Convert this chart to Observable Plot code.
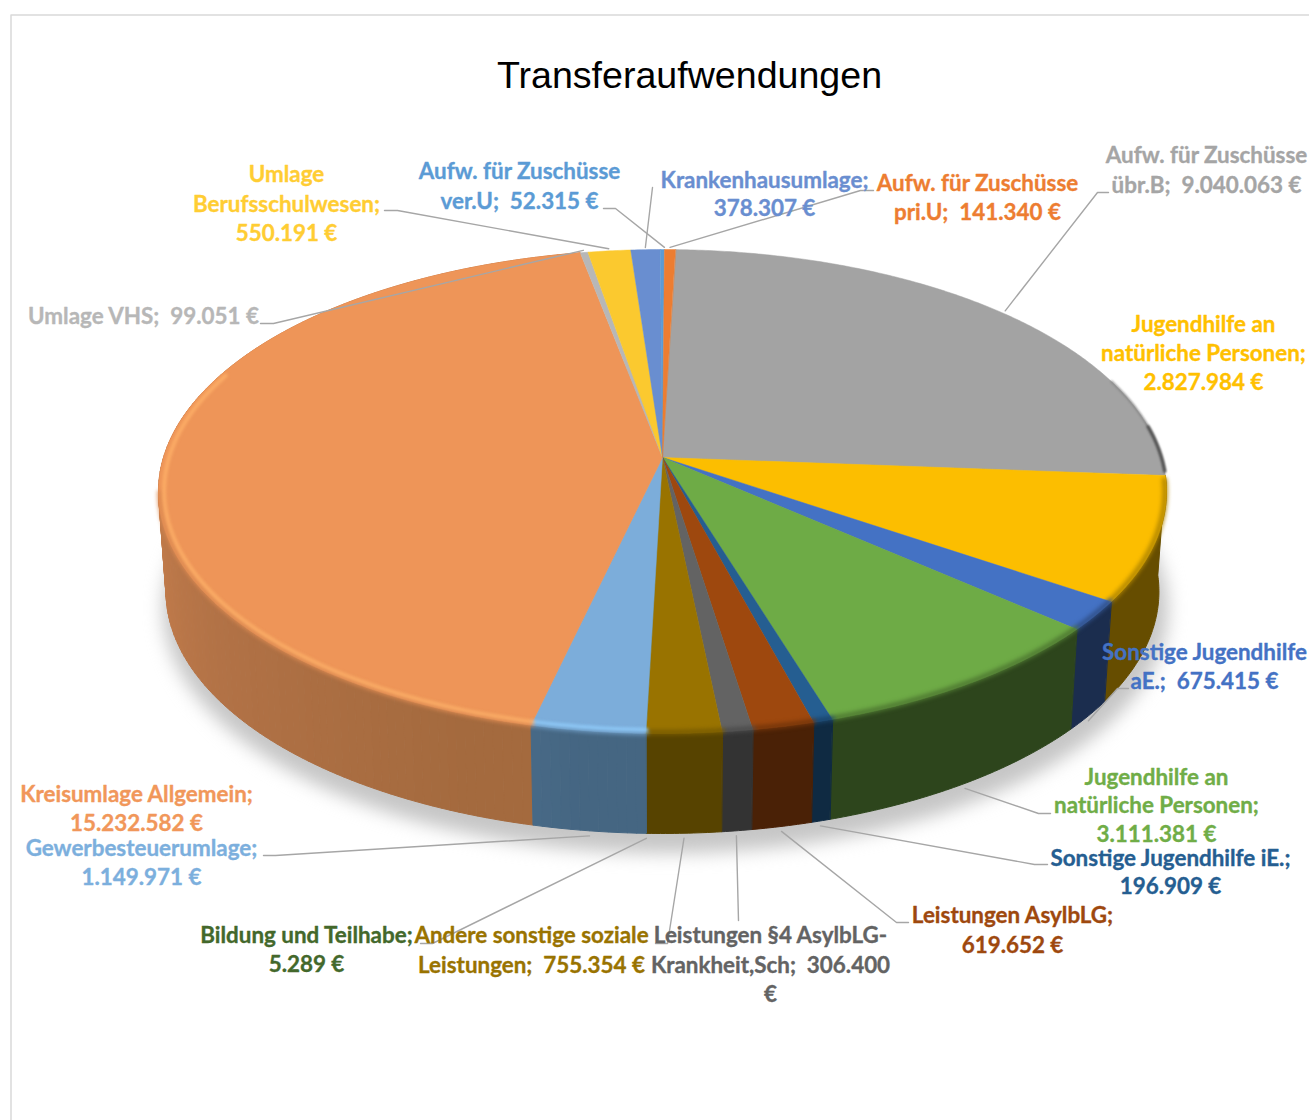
<!DOCTYPE html>
<html>
<head>
<meta charset="utf-8">
<script src="https://cdn.jsdelivr.net/npm/d3@7"></script>
<script src="https://cdn.jsdelivr.net/npm/@observablehq/plot@0.6"></script>
<style>html,body{margin:0;padding:0;background:#fff}svg{display:block}</style>
</head>
<body>
<div id="chart"></div>
<script>
const chartTitle = "Transferaufwendungen";
const categories = ["Aufw. für Zuschüsse übr.B","Jugendhilfe an natürliche Personen (1)","Sonstige Jugendhilfe aE.","Jugendhilfe an natürliche Personen (2)","Sonstige Jugendhilfe iE.","Leistungen AsylbLG","Leistungen §4 AsylbLG-Krankheit,Sch","Andere sonstige soziale Leistungen","Bildung und Teilhabe","Gewerbesteuerumlage","Kreisumlage Allgemein","Umlage VHS","Umlage Berufsschulwesen","Krankenhausumlage","Aufw. für Zuschüsse ver.U","Aufw. für Zuschüsse pri.U"];
const values = [9040063,2827984,675415,3111381,196909,619652,306400,755354,5289,1149971,15232582,99051,550191,378307,52315,141340];
const topColors = ["#a3a3a3","#fcbe00","#4472c4","#6eab46","#255e91","#9e480e","#636363","#997300","#43682b","#7cadda","#ee9558","#b7b7b7","#fbc92f","#698ed0","#5b9bd5","#ed7d31"];
const sideColors = ["#4a4a4a","#664d00","#1b2d4e","#2d451c","#0f2a42","#4a2106","#333333","#574300","#27401a","#4a6d8b","#b57543","#777777","#806000","#3a4f78","#3a4f78","#7a4018"];
const labelLines = [
 ["Aufw. für Zuschüsse","übr.B;  9.040.063 €"],
 ["Jugendhilfe an","natürliche Personen;","2.827.984 €"],
 ["Sonstige Jugendhilfe","aE.;  675.415 €"],
 ["Jugendhilfe an","natürliche Personen;","3.111.381 €"],
 ["Sonstige Jugendhilfe iE.;","196.909 €"],
 ["Leistungen AsylbLG;","619.652 €"],
 ["Leistungen §4 AsylbLG-","Krankheit,Sch;  306.400","€"],
 ["Andere sonstige soziale","Leistungen;  755.354 €"],
 ["Bildung und Teilhabe;","5.289 €"],
 ["Gewerbesteuerumlage;","1.149.971 €"],
 ["Kreisumlage Allgemein;","15.232.582 €"],
 ["Umlage VHS;  99.051 €"],
 ["Umlage","Berufsschulwesen;","550.191 €"],
 ["Krankenhausumlage;","378.307 €"],
 ["Aufw. für Zuschüsse","ver.U;  52.315 €"],
 ["Aufw. für Zuschüsse","pri.U;  141.340 €"]
];
const labelColors = ["#a5a5a5","#ffc000","#4472c4","#70ad47","#255e91","#9e480e","#636363","#997300","#43682b","#7cafdd","#f1975a","#b7b7b7","#ffcd33","#698ed0","#5b9bd5","#ed7d31"];

// Label layout (annotation placement only): text centre x, first-line y, line step
const labelPlace = [[1206,155.5,30],[1203,324.5,29],[1204,652.5,29],[1156,777,28.5],[1170,858,28.5],[1012,915.5,30],[770,935.5,29.5],[531,935.5,29.5],[306,935.5,29],[141,848.5,29],[136,794.5,29],[143,316.5,29],[286,174.5,29.5],[764,180.5,28],[519,171.5,30],[977,183.5,29]];
// Label-side start of each leader, elbow; null means no leader
const leaderStart = [[1108,192,1097,192],null,[1128,688,1117,688],[1050,813,1038,813],[1047,864,1034,864],[908,922,896,922],[738,920,738,920],[655,943,667,943],[420,943,432,943],[263,855,275,855],null,[260,323,273,323],[384,210,397,210],[652,187,652,187],[603,208,615,208],[873,190,860,190]];

// Pie geometry
const cx = 662, cy = 457, Rx = 499, Ry = 237.2, k = 0.1405, depth = 100, startDeg = 1.7, baseScale = 0.985;
const rad = d => d * Math.PI / 180;
// small perspective correction of the lower-right quadrant
const warp = deg => (deg > 95 && deg < 190) ? deg + 1.0 * Math.sin(Math.PI * (deg - 95) / 95) : deg;
function project(deg, r = 1, base = false) {
  const t = warp(deg);
  const u = r * Math.sin(rad(t)), v = -r * Math.cos(rad(t)), w = 1 - k * v;
  return {x: cx + Rx * u / w * (base ? baseScale : 1), y: cy + Ry * v / w + (base ? depth : 0)};
}
const total = d3.sum(values);
const cum = [0, ...d3.cumsum(values)];
const slices = values.map((val, i) => ({i, a0: startDeg + cum[i] / total * 360, a1: startDeg + cum[i + 1] / total * 360}));
const steps = (a0, a1, size) => { const n = Math.max(1, Math.ceil((a1 - a0) / size)); return d3.range(n + 1).map(j => a0 + (a1 - a0) * j / n); };
// The thinnest slice is painted first so that it stays hair-thin between its neighbours
const paintOrder = d3.sort(slices, s => s.a1 - s.a0 < 0.1 ? 0 : 1);

// Top faces
const topPoly = paintOrder.flatMap(s => [{id: s.i, color: topColors[s.i], x: cx, y: cy},
  ...steps(s.a0, s.a1, 0.5).map(a => ({id: s.i, color: topColors[s.i], ...project(a)}))]);

// Side walls: solid slices as one polygon, shaded slices as strips
const orangeShade = d3.scaleLinear().domain([200, 235, 270, 300]).range(["#a46a3e", "#b27246", "#c87f4d", "#cc8350"]).clamp(true);
const blueShade = d3.scaleLinear().domain([188, 206]).range(["#456682", "#4d7290"]).clamp(true);
const shaded = new Set([9, 10]);
const sideParts = slices.flatMap(s => {
  if (Math.cos(rad((s.a0 + s.a1) / 2)) > 0.35) return [];
  const thin = s.a1 - s.a0 < 0.1;
  if (!shaded.has(s.i)) {
    const arc = steps(s.a0, s.a1, 0.5);
    return [{mid: (s.a0 + s.a1) / 2, thin, color: sideColors[s.i], pts: [...arc.map(a => project(a)), ...arc.slice().reverse().map(a => project(a, 1, true))]}];
  }
  const as = steps(s.a0, s.a1, 1);
  return as.slice(1).map((a, j) => {
    const mid = (as[j] + a) / 2;
    return {mid, thin, color: s.i === 10 ? orangeShade(mid) : blueShade(mid), pts: [project(as[j]), project(a), project(a, 1, true), project(as[j], 1, true)]};
  });
}).sort((p, q) => (q.thin - p.thin) || (Math.cos(rad(q.mid)) - Math.cos(rad(p.mid))));
const sidePoly = sideParts.flatMap((part, n) => part.pts.map(p => ({id: n, color: part.color, ...p})));

// Shadow under the pie
const shadowPoly = d3.range(0, 361, 2).map(a => {
  const p = project(a, 1.012, true);
  return {x: p.x + 3, y: p.y + 16};
});

// Rim shading
const rimArc = (test, colorFn, r) => slices.flatMap(s =>
  steps(s.a0, s.a1, 1).filter(a => test(a, s)).map(a => ({id: s.i, color: colorFn(s, a), ...project(a, r)})));
const softEdge = rimArc((a, s) => a > 94.5 && a < 262 && s.a1 - s.a0 >= 0.1,
  s => d3.interpolateRgb(topColors[s.i], sideColors[s.i])(shaded.has(s.i) ? 0.3 : 0.5), 0.997);
const lightRim = rimArc((a, s) => shaded.has(s.i) && a < 292, s => d3.color(topColors[s.i]).brighter(0.5).formatHex(), 0.989);
const darkRimFaint = rimArc(a => a > 70 && a < 94.3, () => "#858585", 1.0);
const darkRimStrong = rimArc(a => a > 82 && a < 94.3, () => "#505050", 1.0);

// Labels
const labelRows = labelLines.flatMap((lines, i) => lines.map((text, j) => ({
  text, color: labelColors[i], x: labelPlace[i][0], y: labelPlace[i][1] + j * labelPlace[i][2]
})));

// Leaders: the pie end comes from the slice's own mid-angle
const leaderRows = slices.flatMap(s => {
  const st = leaderStart[s.i];
  if (!st) return [];
  const mid = s.i === 14 ? s.a1 : (s.a0 + s.a1) / 2;
  const front = Math.cos(rad(mid)) < 0;
  const end = front ? project(mid, 1, true) : project(mid, 1.012);
  if (front) end.y += 5;
  return [{id: s.i, x: st[0], y: st[1]}, {id: s.i, x: st[2], y: st[3]}, {id: s.i, x: end.x, y: end.y}];
});

const frame = [{x: 10.5, y: 1120}, {x: 10.5, y: 14.5}, {x: 1309, y: 14.5}];
const poly = (data, extra = {}) => Plot.line(data, {x: "x", y: "y", z: "id", fill: "color", stroke: "color", strokeWidth: 1, curve: "linear-closed", ...extra});

const chart = Plot.plot({
  width: 1309, height: 1120,
  margin: 0,
  x: {domain: [0, 1309], range: [0, 1309], axis: null},
  y: {domain: [0, 1120], range: [0, 1120], axis: null},
  style: {background: "#fff"},
  marks: [
    Plot.line(frame, {x: "x", y: "y", stroke: "#d9d9d9", strokeWidth: 1.5}),
    Plot.line(shadowPoly, {x: "x", y: "y", fill: "#c6c6c6", curve: "linear-closed", imageFilter: "blur(9px)"}),
    poly(sidePoly),
    poly(topPoly, {strokeWidth: 0.5}),
    Plot.line(darkRimFaint, {x: "x", y: "y", z: "id", stroke: "color", strokeWidth: 2, imageFilter: "blur(1px)"}),
    Plot.line(darkRimStrong, {x: "x", y: "y", z: "id", stroke: "color", strokeWidth: 3, imageFilter: "blur(1px)"}),
    Plot.line(softEdge, {x: "x", y: "y", z: "id", stroke: "color", strokeWidth: 5, imageFilter: "blur(2px)"}),
    Plot.line(lightRim, {x: "x", y: "y", z: "id", stroke: "color", strokeWidth: 4, strokeOpacity: 0.8, imageFilter: "blur(1.5px)"}),
    Plot.line(leaderRows, {x: "x", y: "y", z: "id", stroke: "#a6a6a6", strokeWidth: 1.4}),
    Plot.text(labelRows, {x: "x", y: "y", text: "text", fill: "color", stroke: "color", strokeWidth: 0.35, fontFamily: "Lato", fontWeight: 700, fontSize: 22.4, textAnchor: "middle", lineAnchor: "middle"}),
    Plot.text([chartTitle], {x: () => 689, y: () => 75.5, text: d => d, fill: "#000", fontFamily: "Liberation Sans", fontSize: 37.6, textAnchor: "middle", lineAnchor: "middle"})
  ]
});
document.getElementById("chart").append(chart);
</script>
</body>
</html>
